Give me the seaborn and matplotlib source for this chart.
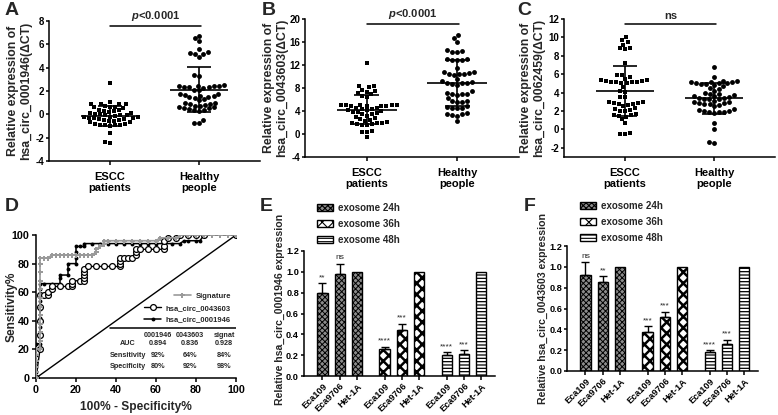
import warnings
warnings.filterwarnings('ignore')
import numpy as np
import matplotlib
matplotlib.use('Agg')
import matplotlib.pyplot as plt
import seaborn as sns
from matplotlib.patches import Patch
from matplotlib.lines import Line2D

# ---------------- data ----------------
cats = ['ESCC\npatients', 'Healthy\npeople']

a_escc = [2.65, 1.05, 0.9, 0.9, 0.9, 0.9, 0.65, 0.6, 0.55, 0.7, 0.6, 0.4, 0.35, 0.3, 0.25, 0.2,
          0.15, 0.1, 0.05, 0.0, -0.05, -0.1, -0.1, -0.15, -0.2, -0.2, -0.25, -0.3, -0.3, -0.35,
          -0.4, -0.4, -0.45, -0.5, -0.55, -0.6, -0.65, -0.7, -0.8, -0.85, -0.9, -0.9, -0.95,
          -1.0, -0.95, -1.6, -2.4, -2.45]
a_healthy = [6.74, 6.51, 6.31, 5.6, 5.31, 5.29, 5.14, 5.14, 4.89, 3.37, 3.31,
             2.5, 2.45, 2.45, 2.4, 2.4, 2.35, 2.3, 2.3, 2.25,
             1.75, 1.7, 1.65, 1.6, 1.55, 1.5, 1.45, 1.4, 1.3,
             1.0, 0.9, 0.85, 0.8, 0.75, 0.7, 0.65, 0.6, 0.55, 0.5, 0.45, 0.4,
             0.35, 0.3, -0.49, -0.77, -0.77, 2.05, 1.2, 0.95, 2.1]

b_escc = [12.29, 8.35, 8.35, 8.1, 7.65, 7.48, 7.36, 7.1, 6.9, 6.6, 6.5,
          5.1, 5.05, 5.05, 5.0, 5.0, 4.95, 4.95, 4.9, 4.85,
          4.5, 4.4, 4.3, 4.2, 4.1, 4.0, 3.9, 3.8,
          3.6, 3.4, 3.2, 3.0, 2.8, 2.6,
          2.3, 2.1, 2.0, 1.9, 1.8, 1.7, 1.6, 1.5,
          0.45, 0.4, 0.4, -0.46, 4.6, 3.5, 2.5, 1.9]
b_healthy = [17.2, 16.7, 16.0, 14.6, 14.2, 14.3, 14.4, 13.0, 12.9, 12.9, 13.0, 12.8,
             10.8, 10.7, 10.6, 10.5, 10.5, 10.4, 10.3,
             9.6, 9.2, 9.0, 8.9, 8.8, 8.8, 8.7, 8.6,
             7.4, 7.0, 6.9, 6.8, 6.9, 7.1,
             5.8, 5.6, 5.5, 5.7,
             4.8, 4.6, 4.5, 4.7, 4.6,
             3.5, 3.3, 3.4, 3.2, 3.6, 2.2, 11.5, 6.2]

c_escc = [10.0, 9.7, 9.45, 9.2, 8.8, 8.8, 8.7, 7.2, 5.9, 5.66, 5.9,
          5.5, 5.4, 5.35, 5.3, 5.25, 5.2, 5.2, 5.15, 5.1, 5.05, 5.0,
          4.1, 4.2, 3.55, 3.5,
          3.0, 2.95, 2.9, 2.85, 2.8, 2.75, 2.7,
          2.3, 2.2, 2.1, 2.05, 2.0,
          1.7, 1.6, 1.55, 1.5, 1.4, 1.1,
          0.66, -0.4, -0.45, -0.45, 4.6, 2.5]
c_healthy = [6.8, 5.7, 5.3, 5.25, 5.2, 5.1, 5.05, 5.0, 4.95, 4.9, 5.0, 5.15, 4.8, 4.7,
             4.4, 4.2, 4.0, 3.9, 3.8, 3.7, 3.65, 3.6, 3.5, 3.45, 3.4, 3.35, 3.3, 3.25,
             2.95, 2.9, 2.85, 2.8, 2.75, 2.7,
             2.0, 1.95, 1.9, 1.9, 1.85, 1.8, 2.1, 2.2,
             0.73, 0.04, -1.44, -1.33, 3.0, 3.1, 4.5, 2.5]

# ROC curves (100% - specificity, sensitivity)
sig_fpr = [0, 0, 0, 0, 0, 0, 2, 2, 2, 2, 2, 2, 2, 2, 2, 2, 2, 2, 4, 6, 8, 10, 12, 14, 16, 18,
           20, 22, 24, 26, 28, 30, 30, 32, 34, 34, 36, 40, 44, 48, 52, 56, 60, 62, 66, 70,
           72, 76, 80, 84, 88, 92, 96, 100]
sig_tpr = [0, 4, 8, 12, 16, 20, 20, 26, 32, 38, 44, 50, 56, 62, 68, 74, 80, 84, 84, 84, 86, 86,
           86, 86, 86, 86, 86, 86, 86, 86, 86, 88, 90, 92, 94, 96, 96, 96, 96, 96, 96, 96, 96,
           98, 98, 98, 100, 100, 100, 100, 100, 100, 100, 100]
c43_fpr = [0, 2, 2, 2, 2, 2, 4, 6, 6, 8, 8, 12, 16, 18, 18, 18, 22, 24, 24, 24, 24, 24, 26, 30,
           34, 38, 42, 42, 42, 42, 44, 46, 48, 50, 50, 50, 52, 56, 60, 64, 64, 64, 66, 70, 72,
           76, 80, 84, 100]
c43_tpr = [0, 20, 30, 40, 50, 58, 58, 58, 60, 62, 64, 64, 64, 64, 66, 68, 68, 68, 70, 72, 74,
           76, 78, 78, 78, 78, 78, 80, 82, 84, 84, 84, 84, 86, 88, 90, 90, 90, 90, 90, 92, 96,
           98, 98, 100, 100, 100, 100, 100]
c46_fpr = [0, 0, 0, 0, 0, 0, 0, 2, 2, 2, 2, 2, 2, 2, 2, 2, 4, 8, 12, 12, 12, 16, 16, 16, 20, 20,
           20, 20, 22, 24, 24, 28, 32, 36, 40, 44, 48, 52, 56, 60, 64, 68, 72, 74, 76, 80, 82,
           84, 100]
c46_tpr = [0, 4, 8, 12, 16, 20, 24, 24, 30, 36, 42, 48, 54, 58, 62, 66, 66, 66, 66, 70, 72, 72,
           76, 80, 80, 84, 88, 92, 92, 92, 94, 94, 94, 94, 94, 94, 94, 94, 94, 94, 94, 94, 94,
           96, 96, 96, 96, 100, 100]

table_cols = ['0001946', '0043603', 'signat']
table_rows = ['AUC', 'Sensitivity', 'Specificity']
auc_vals = ['0.894', '0.836', '0.928']
sens_vals = ['92%', '64%', '84%']
spec_vals = ['80%', '92%', '98%']

bar_labels = ['Eca109', 'Eca9706', 'Het-1A'] * 3
bar_groups = ['exosome 24h', 'exosome 36h', 'exosome 48h']
e_vals = [0.80, 0.98, 1.0, 0.26, 0.44, 1.0, 0.20, 0.21, 1.0]
e_errs = [0.09, 0.10, 0.0, 0.02, 0.06, 0.0, 0.03, 0.035, 0.0]
e_sig = ['**', 'ns', '', '****', '***', '', '****', '***', '']
f_vals = [0.92, 0.85, 1.0, 0.37, 0.52, 1.0, 0.18, 0.26, 1.0]
f_errs = [0.13, 0.06, 0.0, 0.06, 0.05, 0.0, 0.02, 0.04, 0.0]
f_sig = ['ns', '**', '', '***', '***', '', '****', '***', '']

# ---------------- style ----------------
sns.set_theme(style='ticks')
plt.rcParams['font.family'] = ['Liberation Sans', 'DejaVu Sans']
plt.rcParams['font.weight'] = 'bold'
plt.rcParams['axes.labelweight'] = 'bold'
plt.rcParams['mathtext.fontset'] = 'custom'
plt.rcParams['mathtext.it'] = 'Liberation Sans:italic:bold'
plt.rcParams['mathtext.rm'] = 'Liberation Sans:bold'
plt.rcParams['axes.linewidth'] = 1.1
plt.rcParams['xtick.major.width'] = 1.1
plt.rcParams['ytick.major.width'] = 1.1
plt.rcParams['xtick.color'] = 'black'
plt.rcParams['ytick.color'] = 'black'
plt.rcParams['axes.edgecolor'] = 'black'
plt.rcParams['hatch.linewidth'] = 0.8

W, H = 778, 415
fig = plt.figure(figsize=(W / 100, H / 100), dpi=100)


def box(l, t, r, b):
    return [l / W, 1 - b / H, (r - l) / W, (b - t) / H]


def style_axes(ax):
    for s in ['top', 'right']:
        ax.spines[s].set_visible(False)
    ax.tick_params(axis='y', length=2.4, pad=1.2)


# ---------------- scatter panels ----------------
def scatter_panel(rect, groups, yticks, ylim, sig_y, sig_text, ylabel, lab_x):
    ax = fig.add_axes(box(*rect))
    markers = ['s', 'o']
    for i, (vals, m) in enumerate(zip(groups, markers)):
        sns.swarmplot(x=[cats[i]] * len(vals), y=vals, order=cats, marker=m, color='black',
                      size=3.5, linewidth=0, ax=ax)
        arr = np.array(vals)
        mu, sd = arr.mean(), arr.std(ddof=1)
        ax.hlines(mu, i - 0.33, i + 0.33, color='black', lw=1.2, zorder=5)
        ax.hlines([mu - sd, mu + sd], i - 0.14, i + 0.14, color='black', lw=1.2, zorder=5)
        ax.vlines(i, mu - sd, mu + sd, color='black', lw=1.2, zorder=5)
    ax.set_xlim(-0.685, 1.685)
    ax.set_ylim(*ylim)
    ax.set_yticks(yticks)
    ax.set_yticklabels([str(t) for t in yticks], fontsize=7, fontweight='bold')
    ax.set_xticks([0, 1])
    ax.set_xticklabels(cats, fontsize=8, fontweight='bold', linespacing=1.15)
    ax.set_xlabel('')
    ax.set_ylabel(ylabel, fontsize=8.8, fontweight='bold', linespacing=1.1)
    ax.yaxis.set_label_coords(lab_x, 0.5)
    ax.plot([0, 1.02], [sig_y, sig_y], color='black', lw=1.1, clip_on=False)
    ax.text(0.51, sig_y + (ylim[1] - ylim[0]) * 0.02, sig_text, ha='center', va='bottom',
            fontsize=8, fontweight='bold', clip_on=False)
    style_axes(ax)
    ax.tick_params(axis='x', length=3.2, pad=4.5)
    return ax


scatter_panel((49, 21, 260, 161), [a_escc, a_healthy], [-4, -2, 0, 2, 4, 6, 8], (-4, 8), 7.57,
              r'$\mathit{p}$<0.0001', 'Relative expression of\nhsa_circ_0001946(ΔCT)', -0.08)
scatter_panel((305, 19, 519, 157), [b_escc, b_healthy], [-4, 0, 4, 8, 12, 16, 20], (-4, 20),
              19.1, r'$\mathit{p}$<0.0001', 'Relative expression of\nhsa_circ_0043603(ΔCT)',
              -0.079)
scatter_panel((564, 19, 775, 157), [c_escc, c_healthy], [-2, 0, 2, 4, 6, 8, 10, 12], (-3, 12),
              11.45, 'ns', 'Relative expression of\nhsa_circ_0062459(ΔCT)', -0.09)

# ---------------- ROC panel ----------------
axd = fig.add_axes(box(36, 235, 236, 378))
axd.axline((0, 0), slope=1, color='black', lw=1.0, zorder=1)
sns.lineplot(x=c46_fpr, y=c46_tpr, sort=False, estimator=None, color='black', lw=1.1,
             marker='o', markersize=2.8, markeredgewidth=0, ax=axd, zorder=3)
sns.lineplot(x=c43_fpr, y=c43_tpr, sort=False, estimator=None, color='black', lw=1.0,
             marker='o', markersize=4.2, markerfacecolor='white', markeredgecolor='black',
             markeredgewidth=0.9, ax=axd, zorder=4)
sns.lineplot(x=sig_fpr, y=sig_tpr, sort=False, estimator=None, color='#9a9a9a', lw=1.2,
             marker='P', markersize=3.6, markeredgewidth=0, ax=axd, zorder=5)
axd.set_xlim(0, 100)
axd.set_ylim(0, 100)
axd.set_xticks(range(0, 101, 20))
axd.set_yticks(range(0, 101, 20))
for t in axd.get_xticklabels() + axd.get_yticklabels():
    t.set_fontweight('bold')
    t.set_fontsize(7.7)
axd.set_xlabel('100% - Specificity%', fontsize=8.6, fontweight='bold')
axd.set_ylabel('Sensitivity%', fontsize=8.6, fontweight='bold')
style_axes(axd)
axd.tick_params(axis='x', length=3.2, pad=2)
axd.tick_params(axis='y', length=3.2, pad=1.5)
axd.yaxis.set_label_coords(-0.09, 0.5)
handles = [Line2D([], [], color='#9a9a9a', lw=1.2, marker='P', markersize=3.6, markeredgewidth=0),
           Line2D([], [], color='black', lw=1.0, marker='o', markersize=4.2, markerfacecolor='white',
                  markeredgewidth=0.9),
           Line2D([], [], color='black', lw=1.1, marker='o', markersize=2.8, markeredgewidth=0)]
leg = axd.legend(handles, ['Signature', 'hsa_circ_0043603', 'hsa_circ_0001946'],
                 loc='upper right', bbox_to_anchor=(0.99, 0.62), frameon=False, fontsize=5.5,
                 handlelength=2.2, labelspacing=0.6, borderaxespad=0, handletextpad=0.6)
try:
    for col in leg._legend_handle_box.get_children():
        col.align = 'right'
except Exception:
    pass
axd.axhline(35, xmin=0.37, xmax=1.0, color='black', lw=1.1)
col_x = [61, 77, 94]
for x, c, a, s, p in zip(col_x, table_cols, auc_vals, sens_vals, spec_vals):
    axd.text(x, 29.4, c, ha='center', va='center', fontsize=5.2, fontweight='bold')
    axd.text(x, 23.8, a, ha='center', va='center', fontsize=5.2, fontweight='bold')
    axd.text(x, 16.0, s, ha='center', va='center', fontsize=5.2)
    axd.text(x, 7.7, p, ha='center', va='center', fontsize=5.2)
for y, r in zip([23.8, 16.0, 7.7], table_rows):
    axd.text(46, y, r, ha='center', va='center', fontsize=5.2, fontweight='bold')

# ---------------- bar panels ----------------
positions = [0, 1, 2, 3.6, 4.6, 5.6, 7.2, 8.2, 9.2]
hatches = ['xxxxxx', 'xxx', '-----']
faces = ['#8c8c8c', 'white', 'white']
hatch_lw = [0.7, 1.8, 0.9]


def bar_panel(rect, vals, errs, sigs, ylabel, lab_x, lab_y, leg_anchor):
    ax = fig.add_axes(box(*rect))
    sns.barplot(x=positions, y=vals, native_scale=True, width=0.6, color='white',
                edgecolor='black', linewidth=1.0, errorbar=None, ax=ax)
    for patch in ax.patches:
        cx = patch.get_x() + patch.get_width() / 2
        idx = int(np.argmin([abs(cx - p) for p in positions]))
        g = idx // 3
        patch.set_hatch(hatches[g])
        patch.set_facecolor(faces[g])
        patch.set_edgecolor('black')
        if hasattr(patch, 'set_hatch_linewidth'):
            patch.set_hatch_linewidth(hatch_lw[g])
    ep = [p for p, e in zip(positions, errs) if e > 0]
    ev = [v for v, e in zip(vals, errs) if e > 0]
    ee = [e for e in errs if e > 0]
    ax.errorbar(ep, ev, yerr=[np.zeros(len(ee)), ee], fmt='none', ecolor='black',
                elinewidth=1.0, capsize=3, capthick=1.0)
    for p, v, e, s in zip(positions, vals, errs, sigs):
        if s:
            ax.text(p, v + e + 0.02, s, ha='center', va='bottom', fontsize=6,
                    fontweight='normal')
    ax.set_xlim(-1.07, 10.0)
    ax.set_ylim(0, 1.2)
    ax.set_yticks(np.arange(0, 1.21, 0.2))
    ax.set_yticklabels(['%.1f' % t for t in np.arange(0, 1.21, 0.2)], fontsize=6.6,
                       fontweight='bold')
    ax.set_xticks(positions)
    ax.set_xticklabels(bar_labels, rotation=45, ha='right', rotation_mode='anchor', fontsize=6.6,
                       fontweight='bold')
    ax.set_xlabel('')
    ax.set_ylabel(ylabel, fontsize=7.6, fontweight='bold')
    style_axes(ax)
    ax.tick_params(axis='x', length=3.0, pad=1.0)
    ax.yaxis.set_label_coords(lab_x, lab_y)
    leg_handles = []
    for i in range(3):
        ph = Patch(facecolor=faces[i], edgecolor='black', hatch=hatches[i], lw=1.0)
        if hasattr(ph, 'set_hatch_linewidth'):
            ph.set_hatch_linewidth(hatch_lw[i])
        leg_handles.append(ph)
    ax.legend(leg_handles, bar_groups, loc='upper left', bbox_to_anchor=leg_anchor,
              bbox_transform=fig.transFigure, frameon=False, fontsize=7, handlelength=1.6,
              handleheight=0.7, labelspacing=0.62, handletextpad=0.6, borderaxespad=0,
              borderpad=0)
    return ax


bar_panel((304, 251, 495, 376), e_vals, e_errs, e_sig, 'Relative hsa_circ_0001946 expression',
          -0.1, 0.536, (317 / W, 1 - 203 / H))
bar_panel((567, 246, 758, 371), f_vals, f_errs, f_sig, 'Relative hsa_circ_0043603 expression',
          -0.1, 0.5, (580 / W, 1 - 201 / H))

# ---------------- panel letters ----------------
for x, y, s in [(5, 2, 'A'), (262, 2, 'B'), (517, 2, 'C'), (5, 198, 'D'), (260, 198, 'E'),
                (524, 198, 'F')]:
    fig.text(x / W, 1 - y / H, s, ha='left', va='top', fontsize=14, fontweight='bold')

fig.savefig('out.png', dpi=100)
